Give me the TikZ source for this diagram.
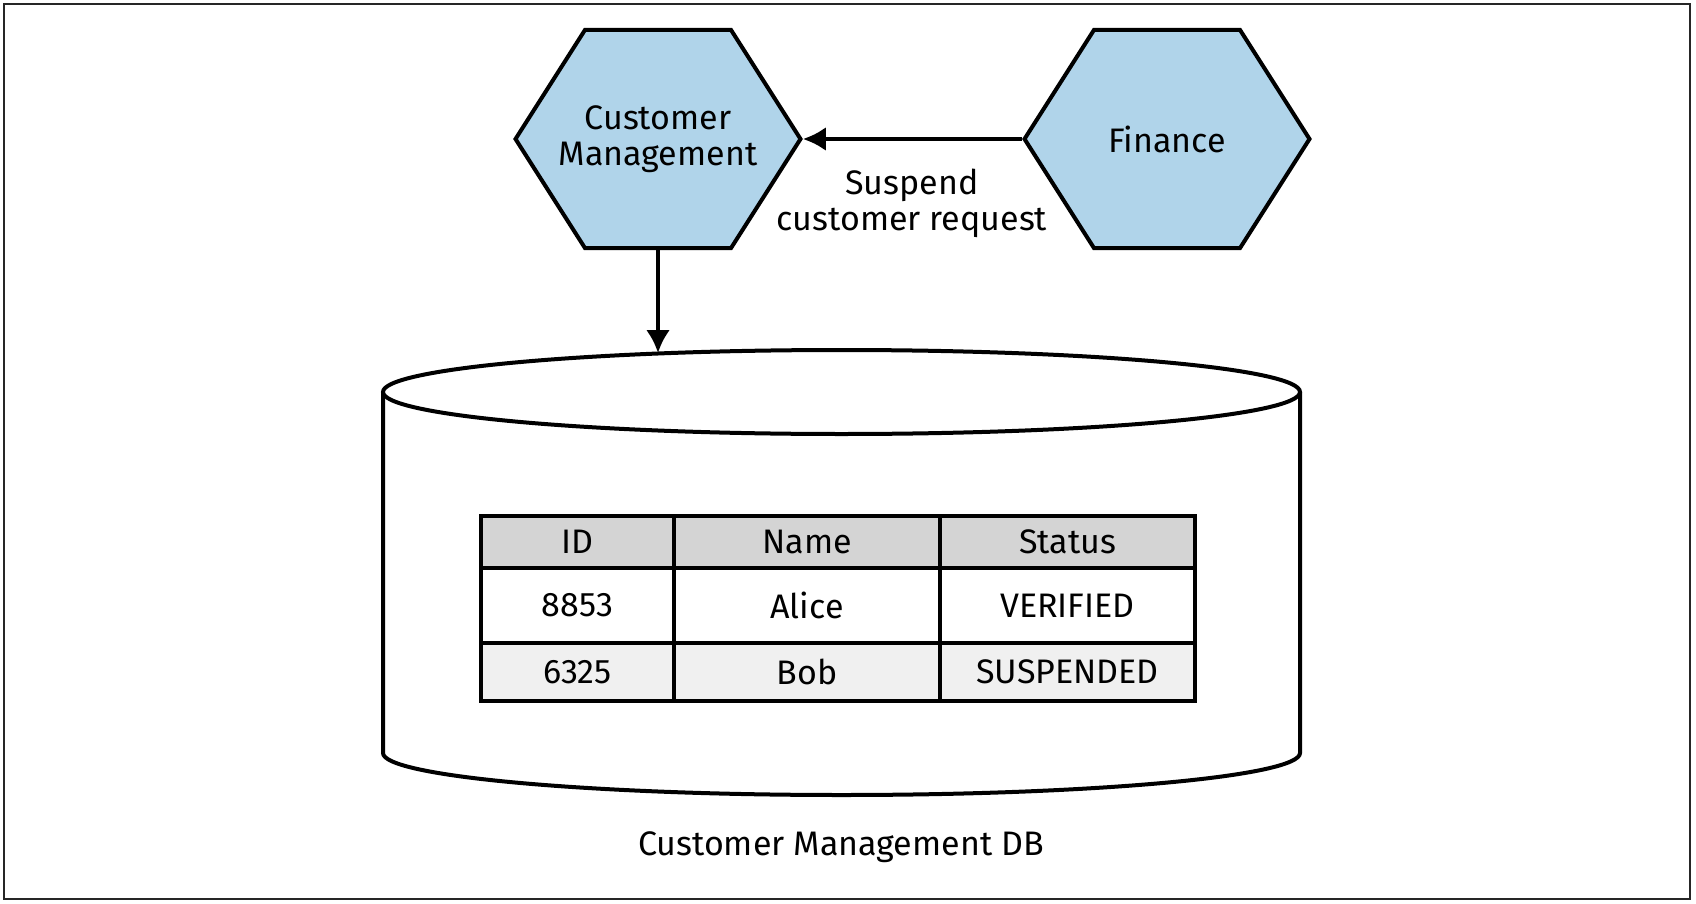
\documentclass[tikz,border=0pt]{standalone}
\usepackage{fontspec}
\setmainfont{Fira Sans}
\usetikzlibrary{shapes.symbols,arrows.meta}
\definecolor{hexblue}{RGB}{176,212,234}
\definecolor{hdgray}{RGB}{212,212,212}
\definecolor{rowgray}{RGB}{240,240,240}
\tikzstyle{line} = [draw, -{Latex[length=11.5pt,width=12pt]}, line width=2pt]
\tikzstyle{hex} = [signal, signal to=west and east, signal pointer angle=115,
  draw, line width=2pt, fill=hexblue, minimum width=142.5pt,
  minimum height=109pt, inner sep=0pt]
\tikzstyle{cell} = [rectangle, draw, line width=1.75pt, fill=white,
  text centered, inner sep=0pt, minimum height=37.5pt]
\tikzstyle{hdcell} = [cell, fill=hdgray, minimum height=26pt]
\tikzstyle{altcell} = [cell, fill=rowgray, minimum height=29pt]

\begin{document}
\begin{tikzpicture}[x=0.5pt, y=-0.5pt, font=\fontsize{17}{18}\selectfont]
  \useasboundingbox (0,0) rectangle (1696,904);
  \draw [line width=1pt, black!85] (4,4) rectangle (1690,899);

  \node [hex, label={[align=center]center:Customer\\Management}] (custmgmt) at (658,139) {};
  \node [hex, label={center:Finance}] (finance) at (1167,139) {};
  \node [align=center] (suspend) at (912,203) {Suspend\\customer request};

  % database
  \draw [line width=2pt, fill=white] (383,392) -- (383,753)
    arc [start angle=180, end angle=0, x radius=458.5, y radius=42]
    -- (1300,392);
  \draw [line width=2pt, fill=white] (841.5,392) ellipse [x radius=458.5, y radius=42];
  \coordinate (dbtop) at (658,353);
  \node (dblabel) at (841,847) {Customer Management DB};

  % table
  \node [hdcell, minimum width=96.5pt] (idhd) at (577.5,542) {ID};
  \node [hdcell, minimum width=133pt] (namehd) at (807,542) {Name};
  \node [hdcell, minimum width=127.5pt] (statushd) at (1067.5,542) {Status};
  \node [cell, minimum width=96.5pt] (alice_id) at (577.5,605.5) {8853};
  \node [cell, minimum width=133pt] (alice) at (807,605.5) {Alice};
  \node [cell, minimum width=127.5pt] (alice_st) at (1067.5,605.5) {VERIFIED};
  \node [altcell, minimum width=96.5pt] (bob_id) at (577.5,672) {6325};
  \node [altcell, minimum width=133pt] (bob) at (807,672) {Bob};
  \node [altcell, minimum width=127.5pt] (bob_st) at (1067.5,672) {SUSPENDED};

  \path [line] (finance) -- (custmgmt);
  \path [line] (custmgmt) -- (dbtop);
\end{tikzpicture}
\end{document}
